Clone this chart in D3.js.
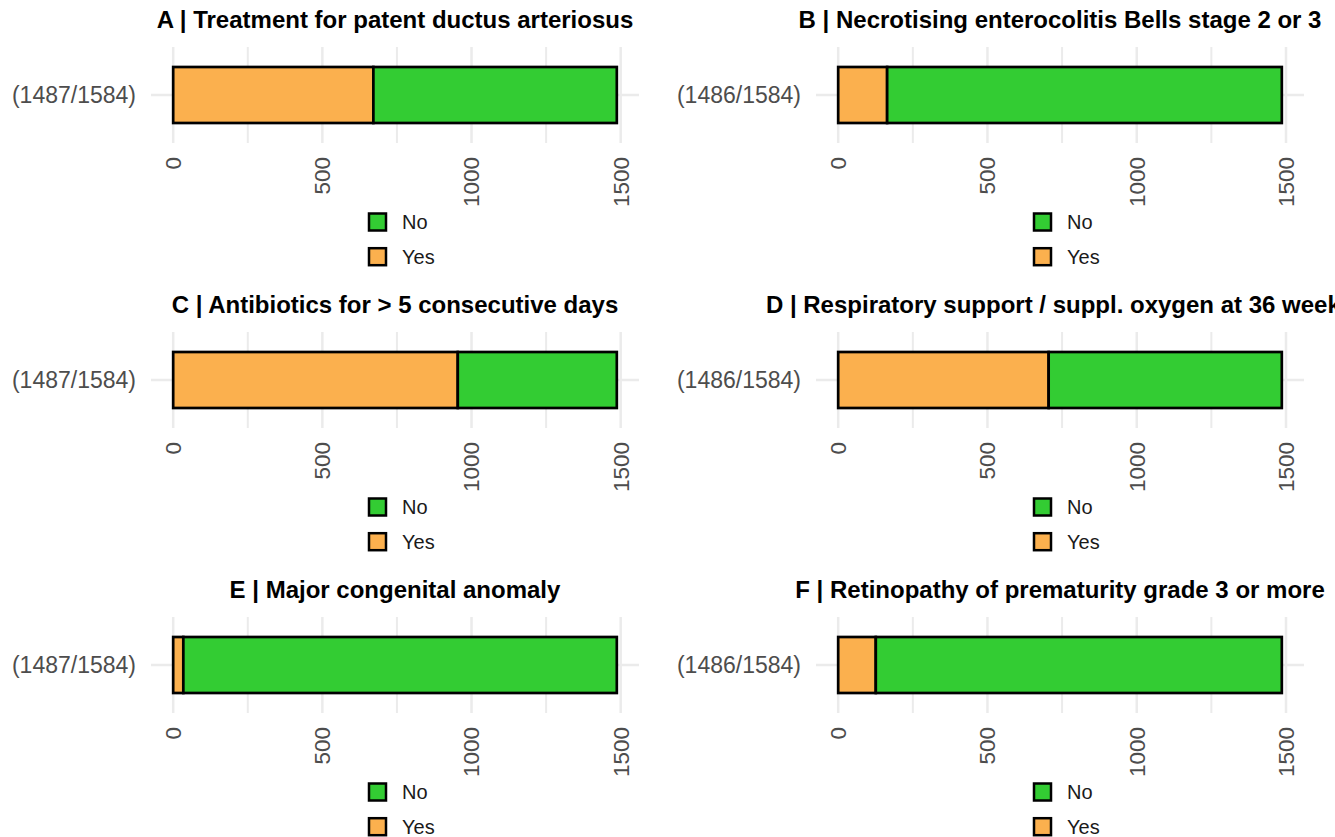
<!DOCTYPE html>
<html>
<head>
<meta charset="utf-8">
<script src="https://cdn.jsdelivr.net/npm/d3@7"></script>
<style>
  html, body { margin: 0; padding: 0; background: #fff; }
  svg { display: block; font-family: "Liberation Sans", Arial, sans-serif; }
</style>
</head>
<body>
<svg id="chart" width="1335" height="837"></svg>
<script>
// ---- data ----
const panelTitles = [
  "A | Treatment for patent ductus arteriosus",
  "B | Necrotising enterocolitis Bells stage 2 or 3",
  "C | Antibiotics for > 5 consecutive days",
  "D | Respiratory support / suppl. oxygen at 36 weeks",
  "E | Major congenital anomaly",
  "F | Retinopathy of prematurity grade 3 or more"
];
const categoryLabels = ["(1487/1584)", "(1486/1584)", "(1487/1584)", "(1486/1584)", "(1487/1584)", "(1486/1584)"];
const totals = [1487, 1486, 1487, 1486, 1487, 1486];
const yesValues = [671, 164, 954, 705, 34, 126];
const noValues = [816, 1322, 533, 781, 1453, 1360];
const xTicks = [0, 500, 1000, 1500];
const minorTicks = [250, 750, 1250];
const legendLabels = ["No", "Yes"];
const seriesColors = { No: "#33CC33", Yes: "#FBB04E" };

// ---- layout ----
const colRanges = [[151, 639], [816, 1304]];
const rowCenters = [95, 380, 665];
const panelH = 96;

const svg = d3.select("#chart");

panelTitles.forEach((title, i) => {
  const col = i % 2, row = Math.floor(i / 2);
  const [x0, x1] = colRanges[col];
  const cy = rowCenters[row];
  const top = cy - panelH / 2, bottom = cy + panelH / 2;
  const max = totals[i];
  const x = d3.scaleLinear().domain([-0.05 * max, max * 1.05]).range([x0, x1]);
  const y = d3.scalePoint().domain([categoryLabels[i]]).range([top, bottom]).padding(0.5);
  const unit = panelH / 1.2;
  const barH = 0.7 * unit;

  const g = svg.append("g");

  // gridlines
  g.selectAll(".minor").data(minorTicks).enter().append("line")
    .attr("x1", d => x(d)).attr("x2", d => x(d))
    .attr("y1", top).attr("y2", bottom)
    .attr("stroke", "#EBEBEB").attr("stroke-width", 2);
  g.selectAll(".major").data(xTicks).enter().append("line")
    .attr("x1", d => x(d)).attr("x2", d => x(d))
    .attr("y1", top).attr("y2", bottom)
    .attr("stroke", "#EBEBEB").attr("stroke-width", 2.5);
  g.append("line")
    .attr("x1", x0).attr("x2", x1)
    .attr("y1", y(categoryLabels[i])).attr("y2", y(categoryLabels[i]))
    .attr("stroke", "#EBEBEB").attr("stroke-width", 2.5);

  // stacked bar: Yes from 0, No stacked after
  const segs = [
    { key: "Yes", start: 0, end: yesValues[i] },
    { key: "No", start: yesValues[i], end: yesValues[i] + noValues[i] }
  ];
  g.selectAll(".seg").data(segs).enter().append("rect")
    .attr("x", d => x(d.start))
    .attr("width", d => x(d.end) - x(d.start))
    .attr("y", y(categoryLabels[i]) - barH / 2)
    .attr("height", barH)
    .attr("fill", d => seriesColors[d.key])
    .attr("stroke", "#000")
    .attr("stroke-width", 2.7);

  // x axis tick labels (rotated)
  g.selectAll(".xt").data(xTicks).enter().append("text")
    .attr("transform", d => `translate(${x(d)},${bottom + 14}) rotate(-90)`)
    .attr("text-anchor", "end")
    .attr("dy", "0.35em")
    .attr("font-size", 22.5)
    .attr("fill", "#4D4D4D")
    .text(d => d);

  // y axis label
  g.append("text")
    .attr("x", x0 - 15)
    .attr("y", y(categoryLabels[i]))
    .attr("dy", "0.35em")
    .attr("text-anchor", "end")
    .attr("font-size", 23)
    .attr("fill", "#4D4D4D")
    .text(categoryLabels[i]);

  // title
  g.append("text")
    .attr("x", (x0 + x1) / 2)
    .attr("y", cy - 67)
    .attr("text-anchor", "middle")
    .attr("font-size", 24)
    .attr("font-weight", "bold")
    .attr("fill", "#000")
    .text(title);

  // legend
  const lx = (x0 + x1) / 2 - 26;
  const legendYs = [cy + 127, cy + 161.7];
  legendLabels.forEach((lab, k) => {
    g.append("rect")
      .attr("x", lx).attr("y", legendYs[k] - 8.5)
      .attr("width", 17).attr("height", 17)
      .attr("fill", seriesColors[lab])
      .attr("stroke", "#000").attr("stroke-width", 2.5);
    g.append("text")
      .attr("x", lx + 33).attr("y", legendYs[k])
      .attr("dy", "0.35em")
      .attr("font-size", 20)
      .attr("fill", "#1A1A1A")
      .text(lab);
  });
});
</script>
</body>
</html>
